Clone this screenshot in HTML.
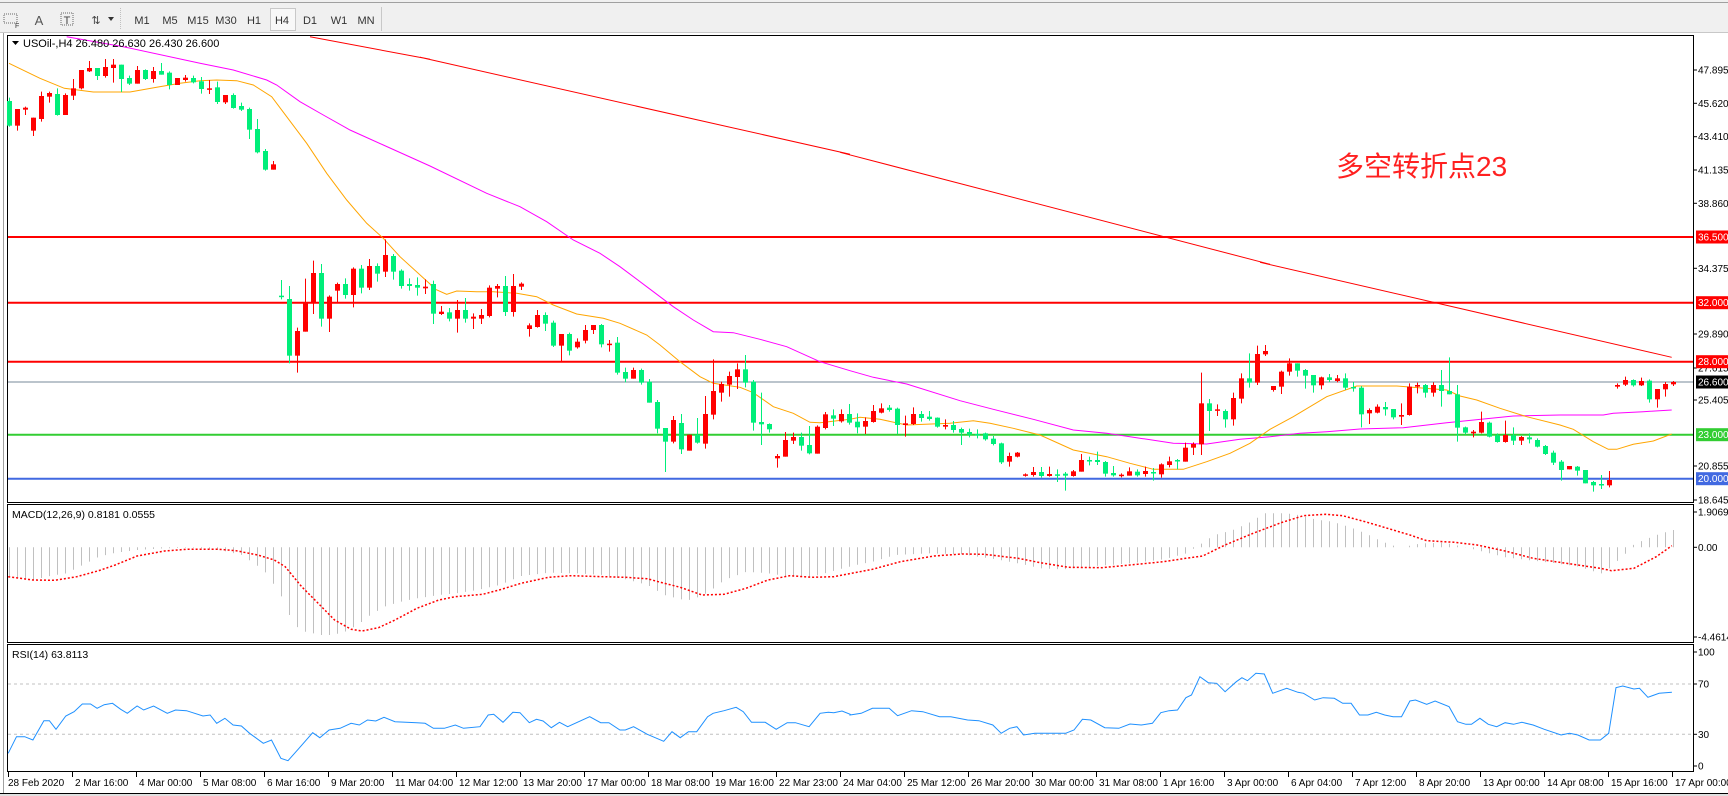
<!DOCTYPE html>
<html><head><meta charset="utf-8"><style>
html,body{margin:0;padding:0;width:1728px;height:796px;overflow:hidden;background:#fff;font-family:"Liberation Sans","Noto Sans CJK SC",sans-serif;}
svg{position:absolute;left:0;top:0;}
</style></head><body>
<svg id="s" width="1728" height="796" xmlns="http://www.w3.org/2000/svg" font-family="Liberation Sans, sans-serif">
<rect x="0" y="0" width="1728" height="796" fill="#fff"/>
<rect x="0" y="0" width="1728" height="33" fill="#f0f0f0"/>
<line x1="0" y1="2.5" x2="1728" y2="2.5" stroke="#a0a0a0"/>
<line x1="0" y1="32.5" x2="1728" y2="32.5" stroke="#c8c8c8"/>
<line x1="120.5" y1="8" x2="120.5" y2="30" stroke="#c0c0c0" stroke-dasharray="1,1"/>
<line x1="381.5" y1="7" x2="381.5" y2="31" stroke="#c8c8c8"/>
<rect x="270.5" y="8.5" width="25" height="22" fill="#f8f8f8" stroke="#c8c8c8"/>
<g font-size="11" fill="#333" text-anchor="middle">
<text x="142" y="24">M1</text><text x="170" y="24">M5</text><text x="198" y="24">M15</text><text x="226" y="24">M30</text><text x="254" y="24">H1</text><text x="282" y="24">H4</text><text x="310" y="24">D1</text><text x="339" y="24">W1</text><text x="366" y="24">MN</text>
<text x="39" y="25" font-size="13" fill="#555">A</text>
</g>
<rect x="4" y="14" width="13" height="9" fill="none" stroke="#666" stroke-dasharray="1,1"/>
<text x="15" y="28" font-size="7" fill="#333">F</text>
<rect x="61" y="13" width="12" height="12" fill="none" stroke="#666" stroke-dasharray="1,1"/>
<text x="67" y="24" font-size="11" fill="#444" text-anchor="middle">T</text>
<text x="96" y="24" font-size="11" fill="#444" text-anchor="middle">⇅</text>
<path d="M108 17 L114 17 L111 21 Z" fill="#333"/>
<line x1="3.5" y1="33" x2="3.5" y2="796" stroke="#a0a0a0"/>
<rect x="7.5" y="35.5" width="1686" height="467" fill="none" stroke="#000"/>
<rect x="7.5" y="504.5" width="1686" height="138" fill="none" stroke="#000"/>
<rect x="7.5" y="644.5" width="1686" height="127" fill="none" stroke="#000"/>
<line x1="0" y1="793.5" x2="1728" y2="793.5" stroke="#000"/>
<rect x="0" y="794" width="1728" height="2" fill="#e0e0e0"/>
<g id="g"></g>
</svg>
<script>
var G=document.getElementById('g'),h='';
function Y(z){return 30+z/3;}
function pl(pts,col,w,extra){h+='<polyline fill="none" stroke="'+col+'" stroke-width="'+w+'" '+(extra||'')+' points="'+pts.map(p=>p[0].toFixed(1)+','+p[1].toFixed(1)).join(' ')+'"/>';}
function seg(cx,arr){return arr.map(p=>[cx+p[0]/3,Y(p[1])]);}
function hl(y,c,w){h+='<line x1="8" x2="1693" y1="'+y+'" y2="'+y+'" stroke="'+c+'" stroke-width="'+w+'"/>';}
hl(237,'#ff0000',2);hl(302.7,'#ff0000',2);hl(361.7,'#ff0000',2);hl(382,'#778899',1);hl(434.7,'#32cd32',2);hl(478.7,'#4169e1',2);
pl(seg(0,[[930,20],[1290,88]]).concat(seg(420,[[0,82],[1290,373]])).concat(seg(840,[[0,367],[1290,703]])).concat(seg(1260,[[0,697],[1235,982]])),'#ff0000',1);
pl(seg(0,[[200,20],[370,50],[600,100],[700,120],[800,150],[830,165],[900,215],[970,255],[1050,300],[1150,345],[1290,408]]).concat(seg(420,[[200,490],[300,530],[380,575],[460,630],[540,670],[600,710],[680,770],[760,830],[820,870],[880,905],[940,908],[1020,928],[1100,950],[1200,995],[1290,1022]])).concat(seg(840,[[100,1042],[200,1062],[360,1112],[460,1138],[580,1168],[700,1200],[800,1210],[870,1220],[1000,1240],[1100,1242],[1200,1228],[1290,1220]])).concat(seg(1260,[[120,1210],[200,1205],[300,1197],[430,1193],[560,1178],[760,1158],[900,1155],[1030,1155],[1060,1150],[1150,1145],[1235,1140]])),'#ff00ff',1);
pl(seg(0,[[27,100],[120,145],[193,175],[280,186],[390,186],[470,172],[540,160],[600,152],[650,150],[710,152],[760,165],[815,200],[860,260],[920,340],[980,430],[1040,510],[1100,580],[1150,625],[1200,680],[1290,762]]).concat(seg(420,[[40,775],[80,793],[110,783],[170,785],[220,785],[290,790],[350,800],[400,825],[470,852],[550,865],[600,880],[680,915],[720,945],[780,995],[840,1040],[880,1060],[960,1072],[1000,1088],[1060,1130],[1120,1150],[1170,1177],[1200,1178],[1290,1168]])).concat(seg(840,[[60,1162],[120,1168],[200,1185],[330,1180],[400,1172],[450,1180],[520,1195],[600,1215],[700,1260],[800,1280],[870,1300],[940,1318],[1030,1318],[1100,1295],[1170,1270],[1230,1240],[1290,1198]])).concat(seg(1260,[[100,1160],[200,1100],[290,1068],[410,1068],[560,1080],[600,1098],[650,1110],[720,1135],[800,1160],[900,1185],[940,1198],[1000,1235],[1045,1258],[1070,1258],[1120,1243],[1180,1233],[1235,1212]])),'#ffa500',1);
var C=`g213 287 203 290|r237 287 237 302|r233 239 230 255|r263 302 263 318|r198 267 185 275|r189 200 185 218|g192 255 175 257|r195 255 190 255|r175 197 147 210|r120 175 120 178|r114 124 93 126|g114 138 114 150|r111 138 87 143|r104 114 87 158|g104 147 104 186|g144 161 137 165|r120 161 108 161|g120 147 118 150|r123 147 111 158|g123 134 99 134|g128 165 124 178|r144 165 144 165|r143 150 135 155|g144 157 137 160|g154 177 141 191|r175 177 150 192|g172 216 155 222|r195 217 195 222|g195 234 190 236|g228 239 218 243|g237 299 233 327|g297 367 267 370|g363 419 357 422|r403 419 393 419|g797 800 750 808|g807 977 768 1000|r903 977 893 1028|r820 905 746 905|r729 820 692 852|g729 866 702 890|r800 866 796 906|r762 782 758 816|g762 795 745 806|r716 795 712 832|g716 773 705 790|r708 773 687 780|g708 731 700 755|r675 725 628 741|g678 725 672 749|g722 768 718 776|g762 768 745 782|g765 773 742 797|r770 775 748 792|g762 851 752 882|r845 852 828 855|g847 866 834 874|r840 866 810 908|g840 866 804 878|r860 866 850 897|r855 866 837 882|r773 858 766 862|r768 776 762 802|g768 846 738 858|r768 846 732 860|r761 770 757 780|r886 897 880 920|r855 891 840 893|g855 881 847 903|g878 947 872 951|r912 947 912 994|g912 962 908 976|r935 952 925 956|r900 932 885 940|r885 900 885 912|g885 943 882 952|r941 944 930 965|g938 1028 921 1034|g1026 1046 1013 1057|r1020 1046 1013 1046|g1020 1058 1016 1064|g1055 1118 1047 1118|g1116 1196 1110 1210|g1194 1235 1194 1326|r1170 1235 1158 1240|g1179 1258 1152 1272|r1214 1262 1214 1262|g1214 1238 1164 1241|r1152 1241 1098 1256|r1083 1154 988 1168|r1062 1088 1055 1115|r1038 1064 1025 1100|r1018 1041 1000 1077|g1018 1058 975 1072|g1055 1178 1050 1202|g1176 1183 1088 1245|g1182 1198 1180 1208|r1278 1285 1272 1313|r1230 1280 1206 1280|r1221 1232 1208 1242|g1221 1247 1208 1262|g1245 1270 1188 1273|r1190 1271 1186 1271|r1153 1194 1146 1198|g1156 1166 1138 1188|r1152 1174 1138 1178|g1152 1178 1122 1184|g1175 1192 1150 1210|r1173 1190 1162 1212|r1143 1176 1125 1178|r1135 1148 1120 1150|g1133 1140 1125 1145|g1136 1185 1133 1212|r1180 1185 1157 1220|r1152 1182 1132 1185|g1152 1164 1143 1175|g1160 1167 1143 1172|g1163 1190 1162 1193|r1185 1190 1168 1198|g1185 1200 1173 1208|g1197 1208 1193 1245|g1206 1214 1196 1222|g1212 1214 1198 1225|g1210 1228 1208 1232|g1226 1242 1218 1246|g1240 1297 1238 1302|r1278 1295 1268 1310|r1268 1280 1266 1282|r1333 1336 1330 1340|r1326 1335 1311 1340|g1326 1338 1311 1343|r1332 1338 1310 1340|g1333 1336 1318 1356|g1331 1337 1326 1382|r1324 1338 1320 1340|r1290 1325 1272 1325|g1290 1293 1280 1306|g1290 1296 1265 1305|g1296 1331 1293 1340|g1329 1336 1308 1340|r1334 1337 1330 1342|r1324 1337 1312 1337|g1325 1336 1318 1340|r1323 1332 1310 1340|g1326 1330 1314 1352|r1303 1333 1300 1343|r1294 1305 1280 1312|g1290 1293 1287 1318|r1253 1295 1238 1295|r1242 1253 1237 1275|r1120 1243 1028 1275|g1120 1143 1107 1203|r1138 1141 1123 1158|g1143 1168 1138 1193|r1104 1168 1088 1187|r1045 1106 1030 1120|g1045 1058 970 1073|r972 1058 947 1065|r963 973 945 978|r1068 1080 1068 1085|r1025 1070 1022 1092|r1000 1025 985 1037|g1000 1022 1000 1040|g1020 1037 1017 1076|g1035 1066 1035 1088|r1042 1066 1040 1078|g1042 1050 1032 1056|r1045 1053 1035 1057|g1045 1073 1030 1080|g1071 1075 1056 1085|g1073 1153 1068 1192|r1140 1150 1135 1182|r1130 1148 1123 1150|g1131 1138 1116 1157|g1137 1162 1137 1168|r1155 1160 1120 1185|r1070 1155 1060 1157|r1065 1070 1058 1090|g1065 1088 1062 1103|r1065 1088 1057 1100|g1065 1083 1020 1130|g1083 1093 982 1093|g1093 1193 1065 1235|g1192 1208 1190 1213|r1205 1210 1200 1222|r1176 1208 1145 1210|g1178 1220 1175 1222|g1216 1236 1210 1238|r1215 1236 1172 1238|g1216 1232 1192 1245|r1221 1232 1218 1245|g1222 1228 1210 1240|g1230 1250 1225 1252|g1248 1272 1245 1275|g1268 1298 1262 1305|g1295 1320 1290 1352|r1308 1318 1308 1318|g1310 1322 1308 1337|g1320 1360 1320 1360|g1356 1366 1353 1385|g1362 1365 1335 1377|r1350 1366 1323 1372|r1065 1070 1060 1076|r1050 1064 1040 1068|g1050 1066 1048 1070|r1053 1066 1043 1068|g1052 1108 1048 1118|r1077 1108 1077 1133|r1062 1078 1056 1100|r1056 1063 1053 1068`.split('|');
var XS=[];
C.forEach(function(s,i){var c=s[0]=='r'?'#ff0000':'#00ee7a';var v=s.slice(1).split(' ').map(Number);var x=9+i*8;XS.push(x);
var bt=Y(v[0]),bb=Y(v[1]);if(bb-bt<1.5)bb=bt+1.5;
h+='<line x1="'+(x+0.5)+'" x2="'+(x+0.5)+'" y1="'+Y(v[2])+'" y2="'+Y(v[3])+'" stroke="'+c+'"/>';
h+='<rect x="'+(x-2)+'" y="'+bt+'" width="5" height="'+(bb-bt)+'" fill="'+c+'"/>';});
function z9(a){return a.map(p=>[p[0]/1.823,500+p[1]/3]);}
function z10(a){return a.map(p=>[850+p[0]/1.786,500+p[1]/3]);}
var env=z9([[27,230],[60,240],[90,228],[120,220],[150,195],[180,170],[210,158],[250,150],[300,145],[350,143],[400,150],[440,165],[480,210],[510,280],[525,340],[540,380],[555,395],[585,405],[600,405],[625,398],[640,385],[655,370],[670,350],[700,320],[730,305],[760,295],[800,285],[830,280],[870,270],[910,255],[950,228],[1000,218],[1050,220],[1100,225],[1140,238],[1180,255],[1210,285],[1240,298],[1260,300],[1290,278],[1320,240],[1360,215],[1400,220],[1440,230],[1480,230],[1520,212]]).concat(z10([[10,195],[40,185],[80,165],[140,160],[200,163],[260,178],[300,190],[340,205],[380,208],[440,198],[500,190],[560,178],[600,160],[625,133],[650,105],[680,92],[710,70],[740,40],[780,40],[800,45],[830,58],[860,65],[890,80],[920,100],[950,125],[980,143],[1020,130],[1060,128],[1100,142],[1130,155],[1170,172],[1220,182],[1260,190],[1300,200],[1330,215],[1345,222],[1365,190],[1385,160],[1390,142],[1410,125],[1440,105],[1468,90]]));
function interp(a,x){if(x<=a[0][0])return a[0][1];for(var i=1;i<a.length;i++){if(x<=a[i][0]){var t=(x-a[i-1][0])/(a[i][0]-a[i-1][0]);return a[i-1][1]+t*(a[i][1]-a[i-1][1]);}}return a[a.length-1][1];}
var Z0=547.3;
XS.forEach(function(x){var y=interp(env,x);h+='<line x1="'+(x+0.5)+'" x2="'+(x+0.5)+'" y1="'+Z0+'" y2="'+y.toFixed(1)+'" stroke="#c0c0c0"/>';});
pl(z9([[15,230],[60,240],[100,241],[140,230],[180,212],[210,195],[250,168],[300,153],[340,148],[400,148],[430,152],[470,165],[500,180],[520,200],[550,260],[580,310],[610,360],[640,388],[660,393],[690,383],[720,360],[760,325],[800,300],[830,290],[880,283],[910,270],[950,250],[1000,232],[1040,227],[1100,230],[1140,232],[1180,236],[1200,245],[1240,262],[1280,285],[1320,283],[1360,265],[1400,240],[1440,227],[1480,232],[1520,230],[1568,215]]).concat(z10([[40,208],[90,185],[150,168],[200,162],[240,163],[300,175],[340,188],[390,202],[450,203],[500,195],[560,185],[600,175],[630,168],[670,135],[720,100],[770,68],[810,47],[850,43],[880,47],[920,65],[960,85],[1000,105],[1030,122],[1080,127],[1120,135],[1170,153],[1220,175],[1260,185],[1300,195],[1340,205],[1360,212],[1400,205],[1440,170],[1468,137]])),'#ff0000',1.5,'stroke-dasharray="2,2"');
h+='<line x1="8" x2="1693" y1="684" y2="684" stroke="#c0c0c0" stroke-dasharray="3,3"/><line x1="8" x2="1693" y1="734.3" y2="734.3" stroke="#c0c0c0" stroke-dasharray="3,3"/>';
pl(z9([[15,760],[30,710],[45,710],[60,720],[80,662],[90,662],[102,688],[120,648],[135,635],[150,612],[165,612],[177,625],[190,614],[205,610],[220,628],[232,640],[250,618],[262,630],[280,618],[305,640],[320,630],[340,632],[370,648],[383,645],[395,670],[410,655],[425,675],[440,678],[455,700],[480,730],[495,720],[512,775],[525,782],[545,745],[570,698],[583,713],[600,690],[620,685],[640,670],[655,675],[670,660],[685,663],[700,652],[720,665],[760,668],[775,670],[790,685],[810,685],[830,675],[845,685],[875,680],[890,645],[900,643],[917,667],[935,637],[948,638],[965,668],[978,658],[990,663],[1005,683],[1020,667],[1035,680],[1075,650],[1095,668],[1110,668],[1130,690],[1140,690],[1155,680],[1180,703],[1210,724],[1225,695],[1240,713],[1255,695],[1270,695],[1290,650],[1300,640],[1320,632],[1342,622],[1355,635],[1370,667],[1395,667],[1415,688],[1435,668],[1450,668],[1475,680],[1495,640],[1510,637],[1520,638],[1535,633],[1550,643]]).concat(z10([[0,645],[20,640],[40,625],[70,625],[85,647],[110,632],[130,635],[160,650],[180,650],[210,660],[230,662],[255,675],[270,700],[285,685],[298,680],[310,705],[330,700],[385,700],[400,690],[415,658],[430,660],[455,683],[480,685],[500,672],[520,675],[540,670],[555,638],[570,632],[585,630],[600,593],[610,585],[625,530],[640,548],[655,550],[670,575],[690,545],[700,533],[710,542],[725,520],[740,522],[755,580],[780,565],[800,577],[810,580],[830,600],[845,593],[865,595],[880,610],[895,610],[910,645],[925,645],[940,637],[955,645],[970,650],[985,650],[1000,603],[1010,600],[1030,613],[1045,603],[1070,620],[1085,665],[1100,673],[1110,673],[1125,655],[1140,673],[1155,680],[1170,668],[1185,673],[1200,667],[1220,675],[1240,688],[1270,705],[1285,700],[1300,705],[1320,720],[1340,720],[1355,700],[1368,563],[1380,558],[1400,567],[1410,565],[1425,592],[1445,580],[1468,577]])),'#1e90ff',1);
function lab(y,t){h+='<line x1="1693" x2="1697" y1="'+y+'" y2="'+y+'" stroke="#000"/><text x="1698" y="'+(y+3.5)+'" font-size="10" fill="#000">'+t+'</text>';}
[[70,'47.895'],[103.3,'45.620'],[136.7,'43.410'],[170,'41.135'],[203.3,'38.860'],[268.3,'34.375'],[334,'29.890'],[368,'27.615'],[400,'25.405'],[466,'20.855'],[500,'18.645'],[512,'1.9069'],[547.3,'0.00'],[637,'-4.4614'],[652,'100'],[684,'70'],[734.3,'30'],[766,'0']].forEach(a=>lab(a[0],a[1]));
function box(y,t,bg,fg){h+='<rect x="1696" y="'+(y-6.5)+'" width="32" height="13" fill="'+bg+'"/><text x="1698" y="'+(y+3.5)+'" font-size="10" fill="'+fg+'">'+t+'</text>';}
box(237,'36.500','#ff0000','#fff');box(302.7,'32.000','#ff0000','#fff');box(361.7,'28.000','#ff0000','#fff');box(382,'26.600','#000','#fff');box(434.7,'23.000','#32cd32','#fff');box(478.7,'20.000','#4169e1','#fff');
var TL=['28 Feb 2020','2 Mar 16:00','4 Mar 00:00','5 Mar 08:00','6 Mar 16:00','9 Mar 20:00','11 Mar 04:00','12 Mar 12:00','13 Mar 20:00','17 Mar 00:00','18 Mar 08:00','19 Mar 16:00','22 Mar 23:00','24 Mar 04:00','25 Mar 12:00','26 Mar 20:00','30 Mar 00:00','31 Mar 08:00','1 Apr 16:00','3 Apr 00:00','6 Apr 04:00','7 Apr 12:00','8 Apr 20:00','13 Apr 00:00','14 Apr 08:00','15 Apr 16:00','17 Apr 00:00'];
TL.forEach(function(t,k){var x=8+k*64;h+='<line x1="'+(x+0.5)+'" x2="'+(x+0.5)+'" y1="772" y2="777" stroke="#000"/><text x="'+(x+(k==0?0:3))+'" y="786" font-size="10" fill="#000">'+t+'</text>';});
h+='<path d="M12 41 L19 41 L15.5 45 Z" fill="#000"/><text x="23" y="47" font-size="11" fill="#000">USOil-,H4  26.480 26.630 26.430 26.600</text>';
h+='<text x="12" y="518" font-size="10.5" fill="#000">MACD(12,26,9) 0.8181 0.0555</text>';
h+='<text x="12" y="658" font-size="10.5" fill="#000">RSI(14) 63.8113</text>';
h+='<text x="1336" y="176" font-size="28" fill="#ff2020" font-family="Liberation Sans, Noto Sans CJK SC, sans-serif">多空转折点23</text>';
G.innerHTML=h;
</script>
</body></html>
